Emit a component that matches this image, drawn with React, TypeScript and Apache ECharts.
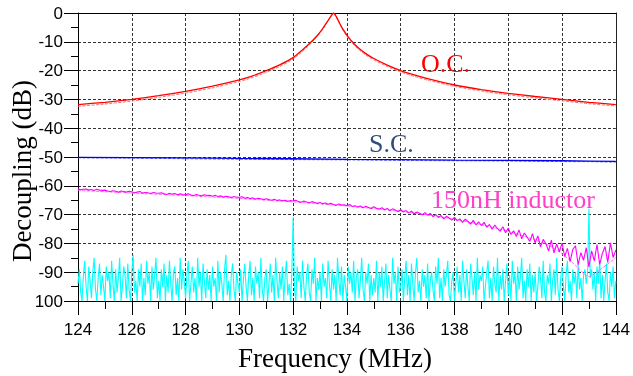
import React, { useEffect, useRef } from "react";
import * as echarts from "echarts";

const xTicks = [124, 144, 2];

const ocFreq = [124, 125, 126, 127, 128, 129, 130, 130.5, 131, 131.5, 132, 132.3, 132.6, 132.9, 133.1, 133.3, 133.4, 133.5, 133.6, 133.7, 133.8, 133.9, 134.0, 134.1, 134.2, 134.4, 134.7, 135, 135.5, 136, 136.5, 137, 138, 139, 140, 141, 142, 143, 144];
const ocMeas = [-31.8, -31, -30, -28.7, -27.2, -25.4, -23.2, -21.8, -20, -18, -15.5, -13.2, -10.7, -7.8, -5.4, -2.6, -1.2, 0, -1.2, -3.0, -4.8, -6.3, -7.7, -8.9, -10.0, -11.9, -14.1, -15.8, -18.1, -20, -21.5, -22.8, -25, -26.6, -27.9, -29, -30, -31, -31.8];
const ocSim = [-32.4, -31.6, -30.6, -29.3, -27.8, -26, -23.8, -22.4, -20.6, -18.6, -16.0, -13.7, -11.1, -8.1, -5.6, -2.7, -1.3, 0, -1.3, -3.2, -5.1, -6.7, -8.1, -9.3, -10.5, -12.4, -14.6, -16.3, -18.6, -20.5, -22.0, -23.3, -25.5, -27.1, -28.4, -29.5, -30.5, -31.5, -32.3];

const scFreq = [124, 126, 128, 130, 132, 134, 136, 138, 140, 142, 143, 144];
const scMeas = [-50.1, -50.2, -50.3, -50.5, -50.6, -50.8, -50.9, -51.1, -51.2, -51.3, -51.4, -51.5];
const scSim = [-50.3, -50.4, -50.6, -50.8, -50.9, -51.0, -51.2, -51.3, -51.4, -51.6, -51.6, -51.8];

const indStart = 124;
const indStep = 0.1;
const indMeas = [
  -61.0, -61.4, -61.2, -61.1, -61.5, -61.3, -61.6, -61.2, -61.5, -61.6,
  -61.5, -61.8, -62.0, -61.7, -61.9, -62.2, -61.8, -62.0, -62.2, -61.9,
  -62.1, -62.4, -62.2, -62.0, -62.5, -62.3, -62.4, -62.7, -62.3, -62.5,
  -62.6, -62.4, -62.8, -63.0, -62.6, -62.9, -62.7, -63.1, -62.8, -63.0,
  -63.1, -62.8, -63.2, -63.4, -63.0, -63.3, -63.5, -63.1, -63.4, -63.3,
  -63.6, -63.3, -63.7, -63.5, -63.9, -63.6, -63.8, -64.1, -63.7, -64.0,
  -64.0, -63.8, -64.3, -64.1, -64.4, -64.2, -64.6, -64.3, -64.5, -64.8,
  -64.5, -64.8, -65.0, -64.7, -65.1, -64.9, -65.2, -65.0, -65.4, -65.1,
  -65.3, -65.0, -65.5, -65.7, -65.3, -65.6, -65.9, -65.5, -65.8, -66.1,
  -65.8, -66.2, -66.0, -66.4, -66.1, -66.5, -66.8, -66.3, -66.7, -66.6,
  -66.9, -66.5, -67.2, -66.9, -67.4, -67.0, -67.6, -67.1, -67.5, -67.9,
  -67.3, -67.8, -68.1, -67.6, -68.3, -67.9, -68.6, -68.0, -68.4, -68.9,
  -68.3, -69.0, -68.6, -69.4, -68.8, -69.7, -69.1, -69.5, -70.1, -69.3,
  -70.2, -69.6, -70.7, -70.0, -71.0, -70.3, -71.5, -70.6, -71.2, -71.9,
  -71.0, -72.1, -71.5, -72.7, -71.6, -72.4, -73.3, -72.0, -73.6, -72.5,
  -73.8, -72.7, -74.4, -73.4, -75.1, -73.6, -74.9, -75.8, -74.2, -76.3,
  -74.7, -76.9, -75.6, -77.6, -75.3, -78.4, -76.4, -77.8, -79.3, -76.6,
  -79.8, -77.4, -81.2, -78.6, -80.1, -82.6, -78.9, -83.3, -80.2, -82.9,
  -79.9, -84.6, -81.7, -86.3, -82.1, -80.8, -87.4, -83.2, -85.9, -81.5,
  -88.2, -82.6, -86.1, -80.4, -87.3, -83.5, -81.1, -86.6, -79.8, -84.9,
  -82.3,
];

const indSimFreq = [124, 126, 128, 130, 132, 134, 136, 137, 138, 139, 140, 141, 141.5, 142, 142.5, 143, 143.5, 144];
const indSim = [-61.6, -62.5, -63.4, -64.4, -65.6, -67.0, -68.9, -70.1, -71.6, -73.5, -75.8, -78.8, -80.6, -83.6, -87.6, -91.5, -88.5, -85.0];

const noiseStart = 124;
const noiseStep = 0.05;
const noise = [
  -94, -89, -97, -100, -91, -86, -95, -100, -88, -93, -99, -90, -85, -96, -100, -92, -87, -98, -91, -95,
  -100, -88, -93, -90, -99, -86, -94, -100, -89, -97, -92, -85, -100, -95, -88, -91, -99, -87, -96, -100,
  -90, -84, -97, -93, -100, -89, -95, -87, -100, -92, -98, -86, -94, -90, -100, -88, -96, -91, -85, -99,
  -93, -100, -89, -95, -87, -100, -91, -97, -86, -94, -100, -90, -88, -98, -92, -100, -85, -96, -89, -93,
  -99, -91, -86, -100, -94, -88, -97, -92, -100, -85, -95, -90, -100, -87, -93, -99, -89, -96, -91, -100,
  -88, -95, -92, -100, -86, -97, -90, -94, -100, -89, -84, -98, -93, -100, -91, -87, -96, -100, -90, -94,
  -97, -89, -100, -93, -87, -95, -100, -91, -86, -98, -92, -100, -88, -94, -90, -99, -85, -96, -100, -92,
  -89, -100, -94, -87, -97, -91, -100, -85, -93, -99, -90, -96, -88, -100, -92, -86, -98, -94, -100, -91,
  -71, -96, -100, -88, -93, -90, -99, -86, -95, -100, -91, -87, -97, -100, -89, -94, -85, -100, -92, -96,
  -90, -100, -87, -95, -92, -99, -86, -94, -100, -89, -96, -91, -100, -85, -93, -98, -88, -100, -91, -95,
  -100, -88, -94, -90, -97, -86, -100, -92, -89, -99, -93, -85, -96, -100, -90, -94, -87, -100, -91, -98,
  -92, -97, -86, -100, -90, -95, -88, -100, -93, -87, -99, -91, -96, -100, -85, -94, -90, -100, -88, -97,
  -95, -89, -100, -92, -86, -98, -91, -100, -87, -94, -100, -90, -85, -97, -93, -100, -89, -95, -91, -99,
  -87, -100, -93, -90, -96, -100, -88, -94, -85, -99, -92, -100, -89, -95, -91, -86, -98, -100, -93, -90,
  -100, -94, -88, -97, -91, -100, -86, -93, -99, -89, -95, -100, -87, -92, -98, -90, -100, -85, -96, -91,
  -93, -88, -100, -95, -90, -86, -99, -92, -100, -88, -94, -97, -85, -100, -91, -96, -89, -100, -93, -87,
  -98, -91, -100, -86, -94, -90, -100, -88, -96, -92, -85, -99, -93, -100, -89, -95, -87, -100, -91, -97,
  -90, -100, -95, -88, -92, -99, -86, -97, -100, -91, -94, -87, -100, -93, -89, -98, -85, -96, -100, -92,
  -88, -95, -100, -91, -86, -97, -93, -100, -89, -94, -90, -99, -87, -96, -92, -100, -91, -89, -94, -90,
  -68, -92, -89, -96, -90, -100, -88, -94, -86, -99, -91, -100, -93, -87, -97, -100, -90, -95, -88, -99,
  -93,
];

const pairs = (xs: number[], ys: number[]) => ys.map((y, i) => [xs[i], y]);
const stepPairs = (start: number, step: number, ys: number[]) =>
  ys.map((y, i) => [Math.round((start + i * step) * 1000) / 1000, y]);

export default function App() {
  const ref = useRef<HTMLDivElement>(null);
  useEffect(() => {
    if (!ref.current) return;
    const chart = echarts.init(ref.current, null, { renderer: "svg" });
    const grid = { left: 78, right: 13, top: 13, bottom: 75 };
    const gridLine = { show: true, lineStyle: { color: "#333", width: 1, type: [3, 2] as any } };
    const tickFont = { fontFamily: "Liberation Sans", fontSize: 17, color: "#000" };
    const line = (name: string, data: any[], color: string, width: number, dashed: boolean, z: number, smooth = 0) => ({
      name,
      type: "line",
      data,
      symbol: "none",
      z,
      smooth: smooth > 0 ? smooth : false,
      lineStyle: { color, width, type: dashed ? ([3, 1.5] as any) : "solid" },
      silent: true,
    });
    chart.setOption({
      animation: false,
      grid,
      xAxis: [
        {
          type: "value",
          min: xTicks[0],
          max: xTicks[1],
          interval: xTicks[2],
          axisLine: { show: true, onZero: false, lineStyle: { color: "#000", width: 1 } },
          axisTick: { show: true, length: 14, lineStyle: { color: "#000" } },
          minorTick: { show: true, splitNumber: 2, length: 8, lineStyle: { color: "#000" } },
          axisLabel: { ...tickFont, margin: 20 },
          splitLine: gridLine,
        },
        {
          type: "value",
          position: "top",
          min: xTicks[0],
          max: xTicks[1],
          axisLine: { show: true, onZero: false, lineStyle: { color: "#000", width: 1.2 } },
          axisTick: { show: false },
          axisLabel: { show: false },
          splitLine: { show: false },
        },
      ],
      yAxis: [
        {
          type: "value",
          min: -100,
          max: 0,
          interval: 10,
          axisLine: { show: true, onZero: false, lineStyle: { color: "#000", width: 1 } },
          axisTick: { show: true, length: 14, lineStyle: { color: "#000" } },
          minorTick: { show: true, splitNumber: 2, length: 7, lineStyle: { color: "#000" } },
          axisLabel: {
            ...tickFont,
            margin: 15,
            formatter: (v: number) => (v === -100 ? "100" : String(v)),
          },
          splitLine: gridLine,
        },
        {
          type: "value",
          position: "right",
          min: -100,
          max: 0,
          axisLine: { show: true, onZero: false, lineStyle: { color: "#222", width: 1 } },
          axisTick: { show: false },
          axisLabel: { show: false },
          splitLine: { show: false },
        },
      ],
      series: [
        line("noise", stepPairs(noiseStart, noiseStep, noise), "#00ffff", 1.1, false, 2),
        line("150nH sim", pairs(indSimFreq, indSim), "#ff66ff", 1, true, 3, 0.25),
        line("150nH inductor", stepPairs(indStart, indStep, indMeas), "#ff00ff", 1.1, false, 4),
        line("S.C. sim", pairs(scFreq, scSim), "#7070ff", 1, true, 3),
        line("S.C.", pairs(scFreq, scMeas), "#0000ee", 1.3, false, 4),
        line("O.C. sim", pairs(ocFreq, ocSim), "#ff7070", 1, true, 3, 0.15),
        line("O.C.", pairs(ocFreq, ocMeas), "#ff0000", 1.3, false, 4, 0.15),
      ],
      graphic: [
        {
          type: "text",
          x: 421,
          y: 50,
          style: { text: "O.C.", font: "26px 'Liberation Serif'", fill: "#ff0000" },
          z: 10,
        },
        {
          type: "text",
          x: 369,
          y: 130,
          style: { text: "S.C.", font: "26px 'Liberation Serif'", fill: "#2e4d7b" },
          z: 10,
        },
        {
          type: "text",
          x: 431,
          y: 186,
          style: { text: "150nH inductor", font: "26px 'Liberation Serif'", fill: "#ff3fc8" },
          z: 10,
        },
        {
          type: "text",
          x: 335,
          y: 358,
          style: {
            text: "Frequency (MHz)",
            font: "27px 'Liberation Serif'",
            fill: "#000",
            align: "center",
            verticalAlign: "middle",
          },
        },
        {
          type: "text",
          x: 22,
          y: 171,
          rotation: Math.PI / 2,
          style: {
            text: "Decoupling (dB)",
            font: "27px 'Liberation Serif'",
            fill: "#000",
            align: "center",
            verticalAlign: "middle",
          },
        },
      ],
    });
    return () => chart.dispose();
  }, []);
  return <div ref={ref} style={{ position: "fixed", left: 0, top: 0, width: 633, height: 376 }} />;
}
